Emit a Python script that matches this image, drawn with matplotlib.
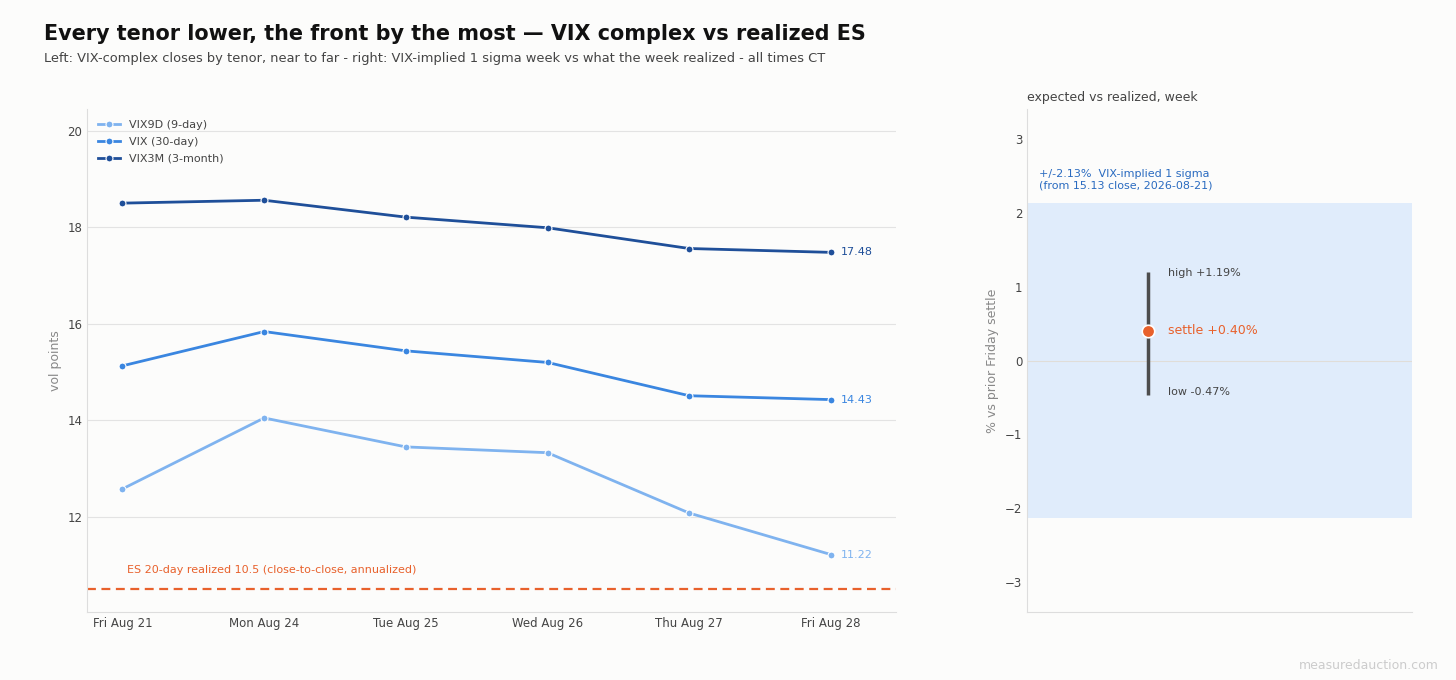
import numpy as np
import matplotlib.pyplot as plt

days = ['Fri Aug 21', 'Mon Aug 24', 'Tue Aug 25', 'Wed Aug 26', 'Thu Aug 27', 'Fri Aug 28']
vix9d = [12.58, 14.05, 13.45, 13.33, 12.08, 11.22]
vix = [15.13, 15.84, 15.44, 15.20, 14.51, 14.43]
vix3m = [18.50, 18.56, 18.21, 17.99, 17.56, 17.48]
es_realized = 10.5

sigma = 2.13
wk_high = 1.19
wk_low = -0.47
wk_settle = 0.40

bg = '#fcfcfb'
c9d = '#7fb3ef'
cvix = '#3a86e0'
c3m = '#1f4f99'
orange = '#e8612c'
grey = '#444444'

fig = plt.figure(figsize=(14.56, 6.8), dpi=100, facecolor=bg)
ax = fig.add_axes([0.0598, 0.1, 0.5556, 0.7397], facecolor=bg)
ax2 = fig.add_axes([0.7054, 0.1, 0.2644, 0.7397], facecolor=bg)

x = np.arange(len(days))
series = [(vix9d, c9d, 'VIX9D (9-day)'), (vix, cvix, 'VIX (30-day)'), (vix3m, c3m, 'VIX3M (3-month)')]
for vals, col, lab in series:
    ax.plot(x, vals, color=col, lw=2, marker='o', ms=5, mec='white', mew=0.8, label=lab)
    ax.text(x[-1] + 0.07, vals[-1], f'{vals[-1]:.2f}', color=col, fontsize=8, va='center')

ax.axhline(es_realized, color=orange, lw=1.6, ls=(0, (4, 2.5)))
ax.text(0.03, es_realized + 0.3, 'ES 20-day realized 10.5 (close-to-close, annualized)',
        color=orange, fontsize=8, va='bottom')

ax.set_xlim(-0.25, 5.46)
ax.set_ylim(10.03, 20.45)
ax.set_xticks(x)
ax.set_xticklabels(days)
ax.set_yticks([12, 14, 16, 18, 20])
ax.grid(axis='y', color='#e3e3e3', lw=0.8)
ax.set_axisbelow(True)
ax.set_ylabel('vol points', color='#888888', fontsize=9)
for s in ['top', 'right']:
    ax.spines[s].set_visible(False)
for s in ['left', 'bottom']:
    ax.spines[s].set_color('#dddddd')
ax.tick_params(colors=grey, labelsize=8.5, length=0)
leg = ax.legend(loc='upper left', frameon=False, fontsize=8, handlelength=2,
                borderaxespad=0.6, labelspacing=0.62)
for t in leg.get_texts():
    t.set_color(grey)

# right panel
ax2.axhspan(-sigma, sigma, color='#e0ecfb', lw=0)
ax2.axhline(0, color='#e0ddd8', lw=0.8)
px = 0.315
ax2.plot([px, px], [wk_low, wk_high], color='#4d4d4d', lw=2.5, solid_capstyle='butt')
ax2.plot(px, wk_settle, 'o', color=orange, ms=9, mec='white', mew=1.2, zorder=5)
ax2.text(px + 0.05, wk_high - 0.01, f'high +{wk_high:.2f}%', fontsize=8, color=grey, va='center')
ax2.text(px + 0.05, wk_settle, f'settle +{wk_settle:.2f}%', fontsize=9, color=orange, va='center')
ax2.text(px + 0.05, wk_low + 0.05, f'low {wk_low:.2f}%', fontsize=8, color=grey, va='center')
ax2.text(0.03, sigma + 0.17, f'+/-{sigma:.2f}%  VIX-implied 1 sigma\n(from 15.13 close, 2026-08-21)',
         fontsize=8, color='#2a6bc0', va='bottom')
ax2.set_xlim(0, 1)
ax2.set_ylim(-3.4, 3.4)
ax2.set_xticks([])
ax2.set_yticks([-3, -2, -1, 0, 1, 2, 3])
ax2.set_yticklabels(['\u22123', '\u22122', '\u22121', '0', '1', '2', '3'])
ax2.set_ylabel('% vs prior Friday settle', color='#888888', fontsize=9)
ax2.set_title('expected vs realized, week', loc='left', fontsize=9, color=grey, pad=6)
for s in ['top', 'right']:
    ax2.spines[s].set_visible(False)
for s in ['left', 'bottom']:
    ax2.spines[s].set_color('#dddddd')
ax2.tick_params(colors=grey, labelsize=8.5, length=0)

fig.text(0.0302, 0.95, 'Every tenor lower, the front by the most \u2014 VIX complex vs realized ES',
         fontsize=14.95, fontweight='bold', color='#111111', va='center')
fig.text(0.0302, 0.914, 'Left: VIX-complex closes by tenor, near to far - right: VIX-implied 1 sigma week vs what the week realized - all times CT',
         fontsize=9.38, color=grey, va='center')
fig.text(0.988, 0.022, 'measuredauction.com', fontsize=9, color='#cccccc', ha='right', va='center')

fig.savefig('out.png', dpi=100, facecolor=bg)
